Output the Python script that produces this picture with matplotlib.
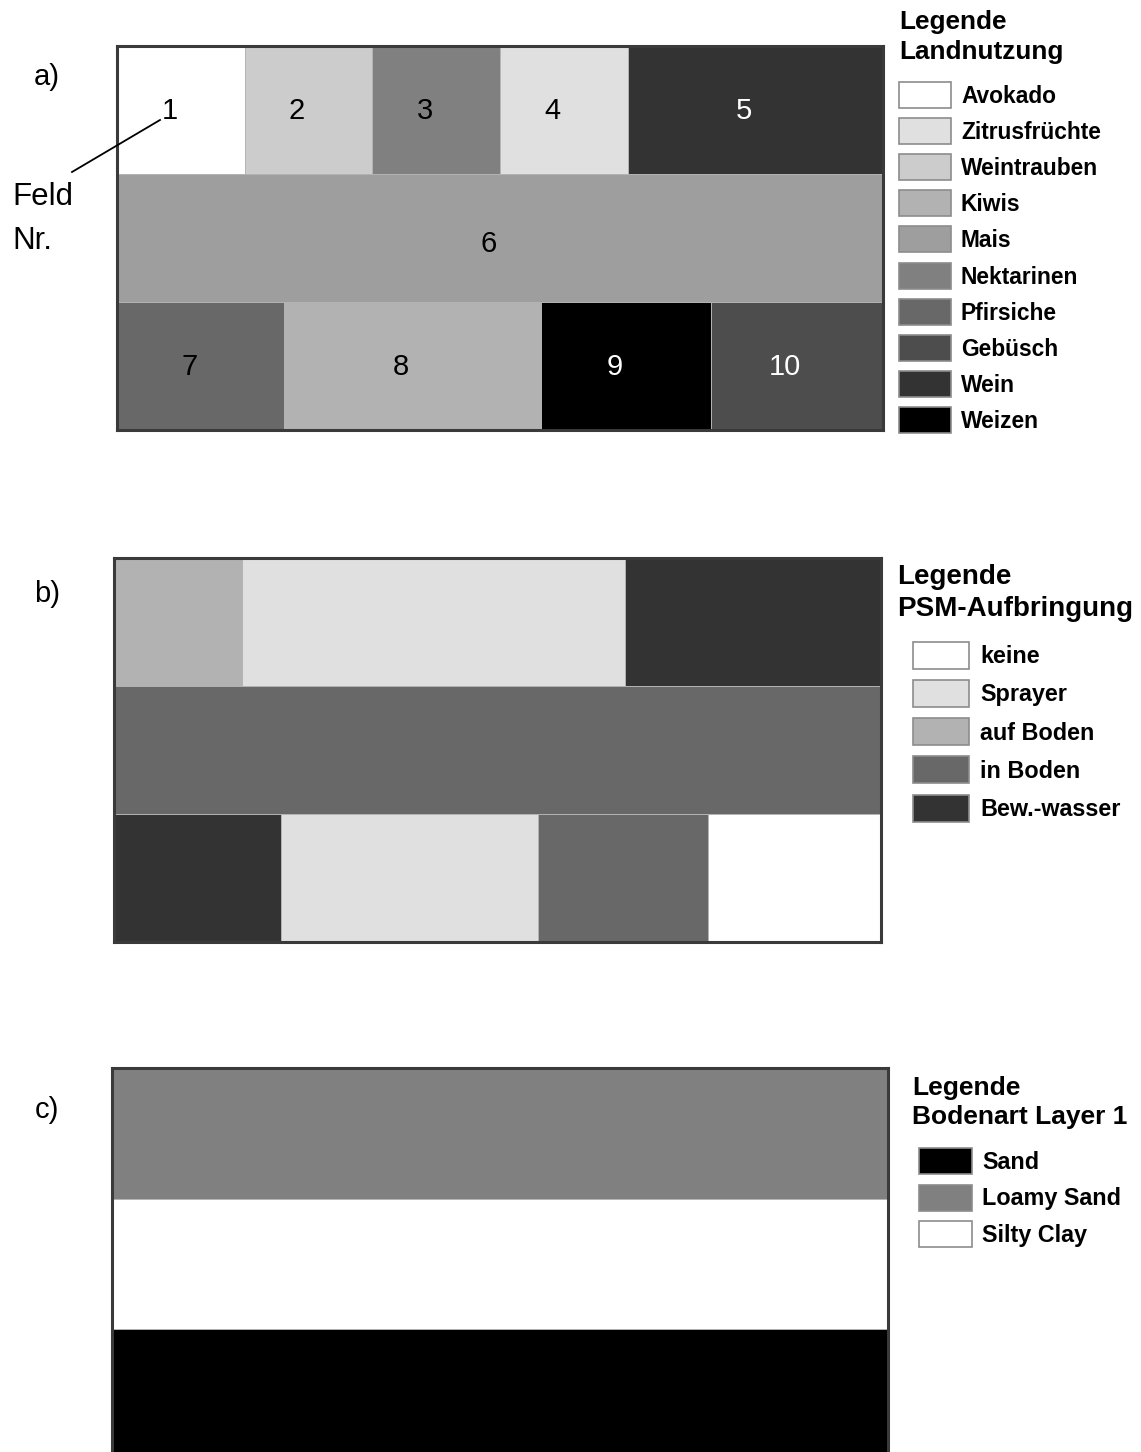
import matplotlib
matplotlib.use("Agg")
import matplotlib.pyplot as plt
from matplotlib.patches import Rectangle

plt.rcParams['font.family'] = ['Liberation Sans', 'DejaVu Sans']

# Kartenraster: 3 Reihen, Breite 6 Einheiten
# a) Felder mit Nummer, Reihe, Start, Ende, Landnutzung
feld_nr = [1, 2, 3, 4, 5, 6, 7, 8, 9, 10]
feld_reihe = [0, 0, 0, 0, 0, 1, 2, 2, 2, 2]
feld_x0 = [0, 1, 2, 3, 4, 0, 0, 1.31, 3.32, 4.65]
feld_x1 = [1, 2, 3, 4, 6, 6, 1.31, 3.32, 4.65, 6]
feld_nutzung = ['Avokado', 'Weintrauben', 'Nektarinen', 'Zitrusfrüchte', 'Wein',
                'Mais', 'Pfirsiche', 'Kiwis', 'Weizen', 'Gebüsch']

nutzung_namen = ['Avokado', 'Zitrusfrüchte', 'Weintrauben', 'Kiwis', 'Mais',
                 'Nektarinen', 'Pfirsiche', 'Gebüsch', 'Wein', 'Weizen']
nutzung_farben = ['#ffffff', '#e0e0e0', '#cccccc', '#b2b2b2', '#9e9e9e',
                  '#808080', '#686868', '#4d4d4d', '#333333', '#000000']

# b) PSM-Aufbringung (Zonen)
psm_reihe = [0, 0, 0, 1, 2, 2, 2, 2]
psm_x0 = [0, 1, 4, 0, 0, 1.31, 3.32, 4.65]
psm_x1 = [1, 4, 6, 6, 1.31, 3.32, 4.65, 6]
psm_art = ['auf Boden', 'Sprayer', 'Bew.-wasser', 'in Boden',
           'Bew.-wasser', 'Sprayer', 'in Boden', 'keine']
psm_namen = ['keine', 'Sprayer', 'auf Boden', 'in Boden', 'Bew.-wasser']
psm_farben = ['#ffffff', '#e0e0e0', '#b2b2b2', '#686868', '#333333']

# c) Bodenart Layer 1
boden_reihe = [0, 1, 2]
boden_art = ['Loamy Sand', 'Silty Clay', 'Sand']
boden_namen = ['Sand', 'Loamy Sand', 'Silty Clay']
boden_farben = ['#000000', '#808080', '#ffffff']

W, H = 1141, 1452
fig = plt.figure(figsize=(W / 100, H / 100), dpi=100)


def karte(px0, py0, px1, py1, nrows=3):
    ax = fig.add_axes([px0 / W, 1 - py1 / H, (px1 - px0) / W, (py1 - py0) / H])
    ax.set_xlim(0, 6)
    ax.set_ylim(nrows - 0.5, -0.5)
    ax.set_xticks([])
    ax.set_yticks([])
    for s in ax.spines.values():
        s.set_color('#3a3a3a')
        s.set_linewidth(2.2)
    return ax


def zeichne(ax, reihen, x0, x1, kat, namen, farben):
    cmap = dict(zip(namen, farben))
    ax.barh(reihen, [b - a for a, b in zip(x0, x1)], left=x0, height=1,
            color=[cmap[k] for k in kat], edgecolor='#b4b4b4', linewidth=0.7)


# Karte a
ax_a = karte(117, 46, 883, 430)
zeichne(ax_a, feld_reihe, feld_x0, feld_x1, feld_nutzung, nutzung_namen, nutzung_farben)
dunkel = ['Wein', 'Weizen', 'Gebüsch']
for nr, r, a, b, k in zip(feld_nr, feld_reihe, feld_x0, feld_x1, feld_nutzung):
    ax_a.text((a + b) / 2 - 0.09, r + (0.045 if r == 1 else 0.005), str(nr),
              ha='center', va='center', fontsize=21,
              color='white' if k in dunkel else 'black')

# Karte b
ax_b = karte(114, 558, 881, 942)
zeichne(ax_b, psm_reihe, psm_x0, psm_x1, psm_art, psm_namen, psm_farben)

# Karte c (unten abgeschnitten)
ax_c = karte(112, 1068, 888, 1460)
zeichne(ax_c, boden_reihe, [0] * 3, [6] * 3, boden_art, boden_namen, boden_farben)

# Overlay fuer Beschriftungen und Legenden (Pixelkoordinaten)
ov = fig.add_axes([0, 0, 1, 1], zorder=10)
ov.set_xlim(0, W)
ov.set_ylim(H, 0)
ov.axis('off')
ov.patch.set_alpha(0)

for lab, y in [('a)', 77), ('b)', 594), ('c)', 1110)]:
    ov.text(47, y, lab, ha='center', va='center', fontsize=21)
ov.text(12, 197, 'Feld', ha='left', va='center', fontsize=22.5)
ov.text(12, 241, 'Nr.', ha='left', va='center', fontsize=22.5)
ov.plot([72, 160], [172, 120], color='black', lw=1.3)


def legende(x_titel, y_titel, titel, namen, farben, bx, bw, bh, y0, dy, tx, fs, tfs):
    for t, y in zip(titel, y_titel):
        ov.text(x_titel, y, t, ha='left', va='center', fontsize=tfs, fontweight='bold')
    for i, (n, f) in enumerate(zip(namen, farben)):
        yc = y0 + i * dy
        ov.add_patch(Rectangle((bx, yc - bh / 2), bw, bh, facecolor=f,
                               edgecolor='#8c8c8c', lw=1.2))
        ov.text(tx, yc + 1.5, n, ha='left', va='center', fontsize=fs, fontweight='bold')


legende(899, [22, 52], ['Legende', 'Landnutzung'], nutzung_namen, nutzung_farben,
        899, 52, 26, 95, 36.1, 961, 16.4, 18.8)
legende(897, [577, 609], ['Legende', 'PSM-Aufbringung'], psm_namen, psm_farben,
        913, 56, 27, 655, 38.3, 980, 16.8, 20)
legende(912, [1088, 1117], ['Legende', 'Bodenart Layer 1'], boden_namen, boden_farben,
        919, 53, 26, 1161, 36.5, 982, 16.8, 19)

fig.savefig('out.png', dpi=100, facecolor='white')
